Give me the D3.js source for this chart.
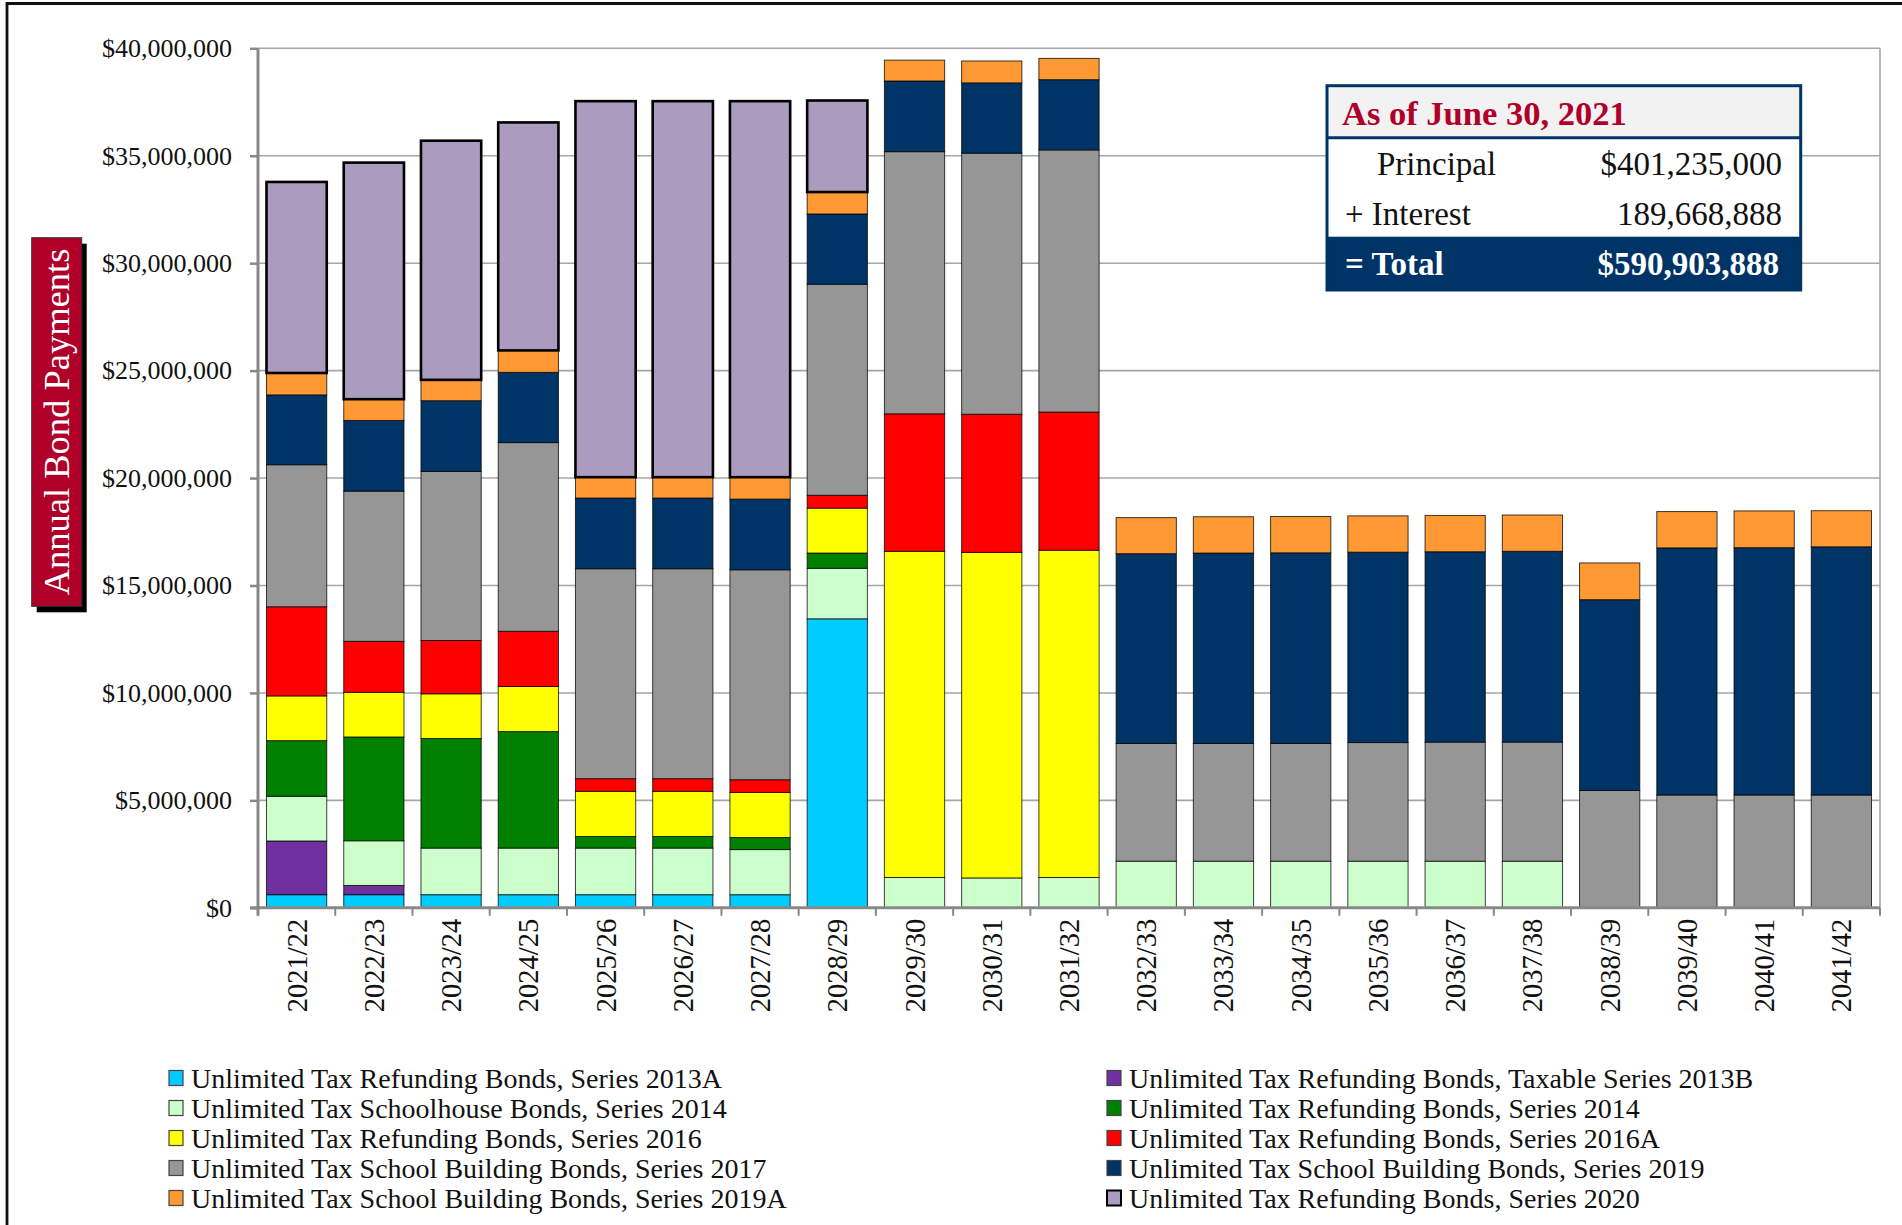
<!DOCTYPE html>
<html><head><meta charset="utf-8">
<script src="https://cdn.jsdelivr.net/npm/d3@7"></script>
<style>
body{margin:0;background:#fff;}
svg{display:block;}
text{font-family:"Liberation Serif","Times New Roman",serif;}
</style>
</head><body>
<svg id="chart" width="1902" height="1225"></svg>
<script>
// ---------------- DATA ----------------
const categories = ["2021/22","2022/23","2023/24","2024/25","2025/26","2026/27","2027/28","2028/29","2029/30","2030/31","2031/32",
  "2032/33","2033/34","2034/35","2035/36","2036/37","2037/38","2038/39","2039/40","2040/41","2041/42"];

const seriesNames = [
  "Unlimited Tax Refunding Bonds, Series 2013A",
  "Unlimited Tax Refunding Bonds, Taxable Series 2013B",
  "Unlimited Tax Schoolhouse Bonds, Series 2014",
  "Unlimited Tax Refunding Bonds, Series 2014",
  "Unlimited Tax Refunding Bonds, Series 2016",
  "Unlimited Tax Refunding Bonds, Series 2016A",
  "Unlimited Tax School Building Bonds, Series 2017",
  "Unlimited Tax School Building Bonds, Series 2019",
  "Unlimited Tax School Building Bonds, Series 2019A",
  "Unlimited Tax Refunding Bonds, Series 2020"
];
const seriesColors = ["#00CCFF","#7030A0","#CCFFCC","#008000","#FFFF00","#FF0000","#969696","#003366","#FF9933","#AA9BBF"];

// values in $ millions
const refunding2013A   = [0.61,0.61,0.61,0.61,0.61,0.61,0.61,13.45,0,0,0,0,0,0,0,0,0,0,0,0,0];
const refunding2013B   = [2.50,0.43,0,0,0,0,0,0,0,0,0,0,0,0,0,0,0,0,0,0,0];
const schoolhouse2014  = [2.08,2.08,2.17,2.17,2.17,2.17,2.10,2.35,1.41,1.39,1.41,2.17,2.17,2.17,2.17,2.17,2.17,0,0,0,0];
const refunding2014    = [2.59,4.83,5.10,5.42,0.54,0.54,0.56,0.71,0,0,0,0,0,0,0,0,0,0,0,0,0];
const refunding2016    = [2.08,2.08,2.08,2.10,2.10,2.10,2.10,2.09,15.18,15.15,15.23,0,0,0,0,0,0,0,0,0,0];
const refunding2016A   = [4.15,2.37,2.48,2.57,0.59,0.59,0.59,0.60,6.40,6.43,6.43,0,0,0,0,0,0,0,0,0,0];
const building2017     = [6.61,6.99,7.87,8.78,9.77,9.77,9.77,9.82,12.20,12.15,12.20,5.48,5.48,5.48,5.52,5.54,5.54,5.46,5.25,5.25,5.25];
const building2019     = [3.25,3.29,3.29,3.27,3.29,3.29,3.29,3.27,3.29,3.27,3.27,8.83,8.86,8.87,8.86,8.86,8.88,8.88,11.50,11.51,11.55];
const building2019A    = [1.02,0.99,0.97,1.02,0.97,0.97,1.02,1.02,0.97,1.02,0.99,1.68,1.69,1.69,1.69,1.69,1.69,1.71,1.69,1.71,1.68];
const refunding2020    = [8.89,11.01,11.13,10.61,17.50,17.50,17.50,4.26,0,0,0,0,0,0,0,0,0,0,0,0,0];

const seriesValues = [refunding2013A, refunding2013B, schoolhouse2014, refunding2014, refunding2016,
  refunding2016A, building2017, building2019, building2019A, refunding2020];

const yTickValues = [0,5,10,15,20,25,30,35,40];
const yTickLabels = ["$0","$5,000,000","$10,000,000","$15,000,000","$20,000,000","$25,000,000","$30,000,000","$35,000,000","$40,000,000"];
const yAxisTitle = "Annual Bond Payments";

const boxTitle = "As of June 30, 2021";
const boxRowLabels = ["Principal","+ Interest","= Total"];
const boxRowValues = ["$401,235,000","189,668,888","$590,903,888"];

// ---------------- DRAW ----------------
const svg = d3.select("#chart");
const plot = {left:258, right:1880, top:48.3, bottom:907.8};

const x = d3.scaleBand().domain(categories).range([plot.left, plot.right]).paddingInner(0.22).paddingOuter(0.11);
const y = d3.scaleLinear().domain([0,40]).range([plot.bottom, plot.top]);

// outer frame (left + top visible)
svg.append("path").attr("d","M7,1225 L7,3.5 L1902,3.5").attr("fill","none").attr("stroke","#111").attr("stroke-width",2.8);

// gridlines
svg.append("g").selectAll("line").data(yTickValues.filter(v=>v>0)).join("line")
  .attr("x1",plot.left).attr("x2",plot.right)
  .attr("y1",d=>y(d)).attr("y2",d=>y(d))
  .attr("stroke","#a6a6a6").attr("stroke-width",1.6);
// right plot border
svg.append("line").attr("x1",plot.right).attr("x2",plot.right).attr("y1",plot.top).attr("y2",plot.bottom)
  .attr("stroke","#a6a6a6").attr("stroke-width",1.6);

// stacked bars
const table = categories.map((c,i)=>{ const o={cat:c}; seriesNames.forEach((s,k)=>o[s]=seriesValues[k][i]); return o; });
const stacked = d3.stack().keys(seriesNames)(table);
const gBars = svg.append("g");
stacked.forEach((layer,k)=>{
  const isTop = k===seriesNames.length-1;
  gBars.append("g").selectAll("rect").data(layer.filter(d=>d[1]-d[0]>0)).join("rect")
    .attr("x",d=>x(d.data.cat)).attr("width",x.bandwidth())
    .attr("y",d=>y(d[1])).attr("height",d=>y(d[0])-y(d[1]))
    .attr("fill",seriesColors[k])
    .attr("stroke","#000").attr("stroke-opacity",isTop?1:0.75).attr("stroke-width",isTop?2.6:1);
});

// y axis
const yAxis = d3.axisLeft(y).tickValues(yTickValues).tickFormat((d,i)=>yTickLabels[i]).tickSize(8).tickPadding(18);
const gy = svg.append("g").attr("transform",`translate(${plot.left},0)`).call(yAxis);
gy.select(".domain").attr("stroke","#888").attr("stroke-width",3).attr("d",`M0,${plot.top}V${plot.bottom+8}`);
gy.selectAll(".tick line").attr("stroke","#888").attr("stroke-width",2.5);
gy.selectAll(".tick text").attr("font-family","Liberation Serif").attr("font-size",26).attr("fill","#111");

// x axis
const gx = svg.append("g").attr("transform",`translate(0,${plot.bottom})`);
gx.append("line").attr("x1",plot.left-8).attr("x2",plot.right).attr("stroke","#888").attr("stroke-width",3);
const boundaries = d3.range(categories.length+1).map(i=>plot.left + i*(plot.right-plot.left)/categories.length);
gx.selectAll("line.tk").data(boundaries).join("line").attr("class","tk")
  .attr("x1",d=>d).attr("x2",d=>d).attr("y1",0).attr("y2",8).attr("stroke","#888").attr("stroke-width",2);
gx.selectAll("text").data(categories).join("text")
  .attr("transform",d=>`translate(${x(d)+x.bandwidth()/2},11) rotate(-90)`)
  .attr("text-anchor","end").attr("dy","0.35em")
  .attr("font-size",28.5).attr("fill","#111").text(d=>d);

// y axis title box
const bx=31.7, by=237.7, bw=50, bh=368.6;
svg.append("rect").attr("x",bx+5).attr("y",by+6).attr("width",bw).attr("height",bh).attr("fill","#000");
svg.append("rect").attr("x",bx).attr("y",by).attr("width",bw).attr("height",bh).attr("fill","#B0002A").attr("stroke","#333").attr("stroke-width",1);
svg.append("text").attr("transform",`translate(${bx+bw/2},${by+bh/2}) rotate(-90)`)
  .attr("text-anchor","middle").attr("dy","0.35em").attr("font-size",36.5).attr("fill","#fff").text(yAxisTitle);

// info box
const ib = {x:1327, y:85.7, w:473.7};
const g = svg.append("g");
g.append("rect").attr("x",ib.x).attr("y",ib.y).attr("width",ib.w).attr("height",52).attr("fill","#F2F2F2");
g.append("rect").attr("x",ib.x).attr("y",ib.y+52).attr("width",ib.w).attr("height",99).attr("fill","#fff");
g.append("rect").attr("x",ib.x).attr("y",236.7).attr("width",ib.w).attr("height",290-236.7).attr("fill","#003366");
g.append("rect").attr("x",ib.x).attr("y",ib.y).attr("width",ib.w).attr("height",290-ib.y).attr("fill","none").attr("stroke","#003366").attr("stroke-width",3);
g.append("line").attr("x1",ib.x).attr("x2",ib.x+ib.w).attr("y1",ib.y+52).attr("y2",ib.y+52).attr("stroke","#003366").attr("stroke-width",3);
g.append("text").attr("x",1342).attr("y",125).attr("font-size",34.5).attr("font-weight","bold").attr("fill","#B0002A").text(boxTitle);
const rowBase = [175, 225, 275];
const labelX = [1377, 1345, 1345];
boxRowLabels.forEach((t,i)=>{
  const tot = i===2;
  g.append("text").attr("x",labelX[i]).attr("y",rowBase[i]).attr("font-size",33)
    .attr("font-weight",tot?"bold":"normal").attr("fill",tot?"#fff":"#111").text(t);
  g.append("text").attr("x",tot?1779:1782).attr("y",rowBase[i]).attr("text-anchor","end").attr("font-size",33)
    .attr("font-weight",tot?"bold":"normal").attr("fill",tot?"#fff":"#111").text(boxRowValues[i]);
});

// legend
const legColX = [169, 1107];
const leg = svg.append("g");
seriesNames.forEach((s,i)=>{
  const col=i%2, row=Math.floor(i/2);
  const cy = 1078 + row*30;
  const isTop = i===seriesNames.length-1;
  leg.append("rect").attr("x",legColX[col]).attr("y",cy-7.5).attr("width",14).attr("height",15)
    .attr("fill",seriesColors[i]).attr("stroke",isTop?"#000":"#444").attr("stroke-width",isTop?2:1.2);
  leg.append("text").attr("x",legColX[col]+22).attr("y",cy).attr("dy","0.35em").attr("font-size",28).attr("fill","#111").text(s);
});
</script>
</body></html>
